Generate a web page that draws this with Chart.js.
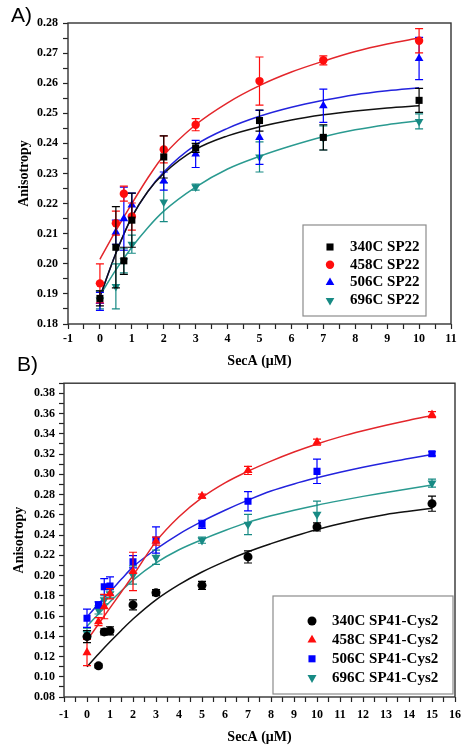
<!DOCTYPE html>
<html>
<head>
<meta charset="utf-8">
<script src="https://cdn.jsdelivr.net/npm/chart.js@4.4.0/dist/chart.umd.min.js"></script>
<style>
  body { margin: 0; background: #fff; }
  #wrap { position: relative; width: 472px; height: 750px; }
  .panel { position: absolute; left: 0; }
  .tag { position: absolute; font-family: "Liberation Sans", Arial, sans-serif; font-size: 21px; color: #000; }
</style>
</head>
<body>
<div id="wrap">
  <canvas id="chartA" class="panel" style="top:0" width="472" height="372"></canvas>
  <canvas id="chartB" class="panel" style="top:372px" width="472" height="378"></canvas>
  <div class="tag" style="left:11px; top:3px;">A)</div>
  <div class="tag" style="left:17px; top:352px;">B)</div>
</div>
<script>
// ---- panel A : SP22 ----
var xA = [0, 0.5, 0.75, 1, 2, 3, 5, 7, 10];
var a340 = [0.1885, 0.2055, 0.2010, 0.2145, 0.2355, 0.2385, 0.2476, 0.2420, 0.2543];
var a340Err = [0.0025, 0.0135, 0.0045, 0.009, 0.007, 0.0015, 0.0035, 0.0042, 0.004];
var a458 = [0.1935, 0.2135, 0.2233, 0.2157, 0.2380, 0.2462, 0.2607, 0.2676, 0.2741];
var a458Err = [0.0065, 0.004, 0.0025, 0.0045, 0.0045, 0.002, 0.008, 0.0015, 0.004];
var a506 = [0.1875, 0.2105, 0.2150, 0.2195, 0.2275, 0.2365, 0.2420, 0.2525, 0.2682];
var a506Err = [0.003, 0.004, 0.0105, 0.004, 0.003, 0.0045, 0.009, 0.0055, 0.007];
var a696 = [0.1880, 0.1925, 0.2010, 0.2065, 0.2205, 0.2255, 0.2355, 0.2418, 0.2473];
var a696Err = [0.003, 0.0075, 0.004, 0.003, 0.0065, 0.001, 0.005, 0.004, 0.0025];

// fitted curves
var fitXA = [0, 0.5, 1, 1.5, 2, 3, 4, 5, 6, 7, 8, 9, 10];
var fitA340 = [0.1890, 0.2035, 0.2155, 0.2240, 0.2300, 0.2380, 0.2425, 0.2455, 0.2478, 0.2495, 0.2508, 0.2518, 0.2525];
var fitA458 = [0.2015, 0.2110, 0.2200, 0.2285, 0.2360, 0.2462, 0.2535, 0.2592, 0.2637, 0.2673, 0.2705, 0.2730, 0.2750];
var fitA506 = [0.1890, 0.2035, 0.2155, 0.2240, 0.2305, 0.2395, 0.2450, 0.2490, 0.2520, 0.2543, 0.2562, 0.2575, 0.2585];
var fitA696 = [0.1895, 0.1980, 0.2055, 0.2120, 0.2175, 0.2255, 0.2315, 0.2357, 0.2392, 0.2422, 0.2445, 0.2462, 0.2475];

// ---- panel B : SP41-Cys2 ----
var xB = [0, 0.5, 0.75, 1, 2, 3, 5, 7, 10, 15];
var b340 = [0.1397, 0.1108, 0.1443, 0.1454, 0.1710, 0.1831, 0.1903, 0.2184, 0.2480, 0.2710];
var b340Err = [0.006, 0.002, 0.003, 0.004, 0.005, 0.003, 0.004, 0.006, 0.004, 0.0075];
var b458 = [0.1239, 0.1545, 0.1693, 0.1820, 0.2040, 0.2340, 0.2785, 0.3038, 0.3317, 0.3590];
var b458Err = [0.013, 0.004, 0.012, 0.005, 0.019, 0.004, 0.002, 0.004, 0.003, 0.003];
var b506 = [0.1578, 0.1710, 0.1890, 0.1897, 0.2136, 0.2351, 0.2506, 0.2733, 0.3029, 0.3203];
var b506Err = [0.009, 0.003, 0.008, 0.009, 0.006, 0.013, 0.004, 0.0095, 0.012, 0.002];
var b696 = [0.1430, 0.1660, 0.1760, 0.1820, 0.2005, 0.2180, 0.2349, 0.2505, 0.2605, 0.2913];
var b696Err = [0.005, 0.004, 0.004, 0.004, 0.009, 0.007, 0.003, 0.010, 0.013, 0.004];

var fitXB = [0, 0.5, 1, 1.5, 2, 3, 4, 5, 6, 7, 8, 9, 10, 11, 12, 13, 14, 15];
var fitB340 = [0.110, 0.1225, 0.1345, 0.1460, 0.1570, 0.1760, 0.1910, 0.2035, 0.2140, 0.2235, 0.2315, 0.2388, 0.2455, 0.2512, 0.2562, 0.2604, 0.2636, 0.2665];
var fitB458 = [0.136, 0.152, 0.168, 0.184, 0.200, 0.2335, 0.2580, 0.2770, 0.2915, 0.3030, 0.3130, 0.3220, 0.3300, 0.3370, 0.3430, 0.3485, 0.3535, 0.3580];
var fitB506 = [0.159, 0.172, 0.184, 0.1965, 0.2085, 0.2260, 0.2410, 0.2535, 0.2645, 0.2745, 0.2835, 0.2905, 0.2965, 0.3020, 0.3070, 0.3115, 0.3155, 0.3195];
var fitB696 = [0.150, 0.162, 0.174, 0.185, 0.1955, 0.2125, 0.2255, 0.2355, 0.2445, 0.2525, 0.2590, 0.2645, 0.2695, 0.2740, 0.2782, 0.2820, 0.2858, 0.2895];

var BLACK = '#000000', RED = '#ff0d0d', BLUE = '#0000ff', TEAL = '#178a84';
var LRED = '#e3262b', LBLUE = '#2323dd', LTEAL = '#2a9a90', LBLACK = '#111111';
var SERIF = '"Liberation Serif", "Times New Roman", serif';

function pts(xs, ys) {
  return xs.map(function (x, i) { return { x: x, y: ys[i] }; });
}

function markers(label, xs, ys, errs, color, style, r, rot) {
  return {
    label: label, data: pts(xs, ys), errors: errs,
    backgroundColor: color, borderColor: color, borderWidth: 0,
    pointStyle: style, pointRadius: r, rotation: rot || 0, showLine: false
  };
}

function curve(xs, ys, color) {
  return {
    data: pts(xs, ys), showLine: true, pointRadius: 0, borderColor: color,
    borderWidth: 1.5, cubicInterpolationMode: 'monotone', fill: false
  };
}

// error bars under each marker set
var errorBars = {
  id: 'errorBars',
  beforeDatasetDraw: function (chart, args) {
    var ds = chart.data.datasets[args.index];
    if (!ds.errors) return;
    var ys = chart.scales.y, ctx = chart.ctx;
    ctx.save();
    ctx.strokeStyle = ds.borderColor;
    ctx.lineWidth = 1.2;
    args.meta.data.forEach(function (p, i) {
      var v = ds.data[i].y, e = ds.errors[i];
      var t = ys.getPixelForValue(v + e), b = ys.getPixelForValue(v - e);
      ctx.beginPath();
      ctx.moveTo(p.x, t); ctx.lineTo(p.x, b);
      ctx.moveTo(p.x - 4, t); ctx.lineTo(p.x + 4, t);
      ctx.moveTo(p.x - 4, b); ctx.lineTo(p.x + 4, b);
      ctx.stroke();
    });
    ctx.restore();
  }
};

// box around the plot + legend box
var frameAndLegend = {
  id: 'frameAndLegend',
  afterDraw: function (chart, args, o) {
    var ctx = chart.ctx, a = chart.chartArea;
    ctx.save();
    ctx.strokeStyle = '#333';
    ctx.lineWidth = 1.4;
    ctx.strokeRect(a.left, a.top, a.right - a.left, a.bottom - a.top);

    ctx.fillStyle = '#fff';
    ctx.fillRect(o.x, o.y, o.w, o.h);
    ctx.strokeStyle = '#8c8c8c';
    ctx.lineWidth = 1.2;
    ctx.strokeRect(o.x, o.y, o.w, o.h);
    ctx.font = 'bold 15px ' + SERIF;
    ctx.textBaseline = 'middle';
    for (var i = 0; i < 4; i++) {
      var ds = chart.data.datasets[i];
      var y = o.y + o.first + i * o.gap;
      ctx.fillStyle = ds.backgroundColor;
      Chart.helpers.drawPoint(ctx, { pointStyle: ds.pointStyle, rotation: ds.rotation, radius: ds.pointRadius, borderWidth: 0 }, o.mx, y);
      ctx.fillStyle = '#000';
      ctx.fillText(ds.label, o.tx, y);
    }
    ctx.restore();
  }
};

function makeChart(id, datasets, cfg) {
  return new Chart(document.getElementById(id), {
    type: 'scatter',
    data: { datasets: datasets },
    plugins: [errorBars, frameAndLegend],
    options: {
      responsive: false,
      animation: false,
      layout: { padding: cfg.padding },
      plugins: { legend: { display: false }, tooltip: { enabled: false }, frameAndLegend: cfg.legend },
      scales: {
        x: {
          type: 'linear', min: cfg.xmin, max: cfg.xmax,
          border: { display: false },
          grid: { drawOnChartArea: false, tickLength: 5, tickColor: '#222', tickWidth: 1.2 },
          ticks: {
            stepSize: 0.5, autoSkip: false, maxRotation: 0, padding: cfg.xPad, color: '#000',
            font: { family: SERIF, weight: 'bold', size: 12 },
            callback: function (v) { return Math.abs(v - Math.round(v)) < 1e-6 ? String(Math.round(v)) : ''; }
          },
          title: { display: true, text: 'SecA (μM)', color: '#000', padding: { top: 0, bottom: cfg.xTitlePad }, font: { family: SERIF, weight: 'bold', size: 14 } },
          afterFit: function (s) { s.height = cfg.xHeight; }
        },
        y: {
          min: cfg.ymin, max: cfg.ymax,
          border: { display: false },
          grid: { drawOnChartArea: false, tickLength: 5, tickColor: '#222', tickWidth: 1.2 },
          ticks: {
            stepSize: cfg.ystep, autoSkip: false, padding: cfg.yPad, color: '#000',
            font: { family: SERIF, weight: 'bold', size: 12 },
            callback: cfg.yLabel
          },
          title: { display: true, text: 'Anisotropy', color: '#000', padding: { top: cfg.yTitlePad, bottom: 0 }, font: { family: SERIF, weight: 'bold', size: 14 } },
          afterFit: function (s) { s.width = cfg.yWidth; }
        }
      }
    }
  });
}

makeChart('chartA', [
  markers('340C SP22', xA, a340, a340Err, BLACK, 'rect', 5),
  markers('458C SP22', xA, a458, a458Err, RED, 'circle', 4.2),
  markers('506C SP22', xA, a506, a506Err, BLUE, 'triangle', 5),
  markers('696C SP22', xA, a696, a696Err, TEAL, 'triangle', 5, 180),
  curve(fitXA, fitA340, LBLACK),
  curve(fitXA, fitA458, LRED),
  curve(fitXA, fitA506, LBLUE),
  curve(fitXA, fitA696, LTEAL)
], {
  padding: { left: 0, right: 21, top: 23, bottom: 0 },
  xmin: -1, xmax: 11, ymin: 0.18, ymax: 0.28, ystep: 0.005,
  xHeight: 48, yWidth: 68, xPad: 3, yPad: 5, xTitlePad: 2, yTitlePad: 16,
  yLabel: function (v) { return Math.round(v * 1000) % 10 === 0 ? v.toFixed(2) : ''; },
  legend: { x: 303, y: 225, w: 123, h: 91, first: 22, gap: 17.8, mx: 330, tx: 350 }
});

makeChart('chartB', [
  markers('340C SP41-Cys2', xB, b340, b340Err, BLACK, 'circle', 4.5),
  markers('458C SP41-Cys2', xB, b458, b458Err, RED, 'triangle', 5.2),
  markers('506C SP41-Cys2', xB, b506, b506Err, BLUE, 'rect', 5),
  markers('696C SP41-Cys2', xB, b696, b696Err, TEAL, 'triangle', 5.2, 180),
  curve(fitXB, fitB340, LBLACK),
  curve(fitXB, fitB458, LRED),
  curve(fitXB, fitB506, LBLUE),
  curve(fitXB, fitB696, LTEAL)
], {
  padding: { left: 0, right: 17, top: 11, bottom: 0 },
  xmin: -1, xmax: 16, ymin: 0.08, ymax: 0.39, ystep: 0.01,
  xHeight: 53, yWidth: 64, xPad: 6, yPad: 4, xTitlePad: 4, yTitlePad: 11,
  yLabel: function (v) { var k = Math.round(v * 100); return (k % 2 === 0 && k < 39) ? v.toFixed(2) : ''; },
  legend: { x: 273, y: 224, w: 180, h: 98, first: 25, gap: 18.9, mx: 312, tx: 332 }
});
</script>
</body>
</html>
